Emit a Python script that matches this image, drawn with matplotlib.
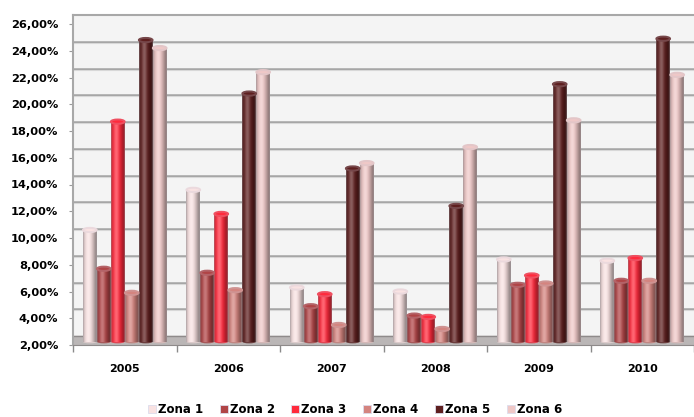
import numpy as np
import matplotlib.pyplot as plt
from matplotlib.patches import Ellipse
from matplotlib.lines import Line2D
from matplotlib.colors import to_rgb

years = ["2005", "2006", "2007", "2008", "2009", "2010"]
zones = ["Zona 1", "Zona 2", "Zona 3", "Zona 4", "Zona 5", "Zona 6"]
zona1 = [10.6, 13.6, 6.3, 6.0, 8.4, 8.3]
zona2 = [7.7, 7.4, 4.9, 4.2, 6.5, 6.8]
zona3 = [18.7, 11.8, 5.8, 4.1, 7.2, 8.5]
zona4 = [5.9, 6.1, 3.5, 3.2, 6.6, 6.8]
zona5 = [24.8, 20.8, 15.2, 12.4, 21.5, 24.9]
zona6 = [24.2, 22.4, 15.6, 16.8, 18.8, 22.2]
series = [zona1, zona2, zona3, zona4, zona5, zona6]
colors = ["#f9e2e2", "#b04446", "#ff2a3c", "#d4847f", "#5e1f1f", "#efc8c7"]
yticks = list(range(2, 27, 2))

depth = 0.67      # vertical shift of the back wall (perspective)
base = 2.25       # where the cylinders stand on the floor
bw = 0.135        # bar width in category units
cap_h = 0.32      # height of the top ellipse


def cylinder_row(color, n=40):
    c = np.array(to_rgb(color))
    t = np.linspace(0, 1, n)
    light = np.cos(np.pi * (t - 0.38) * 0.95)
    light = np.clip(light, 0, 1)
    rows = []
    for ti, l in zip(t, light):
        col = c * (0.62 + 0.38 * l)
        hl = 0.28 * l ** 6
        col = col * (1 - hl) + hl
        # grey rim on both sides
        if ti < 0.07 or ti > 0.93:
            col = col * 0.6 + np.array([0.62, 0.6, 0.62]) * 0.4
        rows.append(col)
    return np.clip(np.array(rows)[None, :, :], 0, 1)


fig = plt.figure(figsize=(6.94, 4.17), dpi=100)
ax = fig.add_axes([73 / 694, 72 / 417, 621 / 694, 330 / 417])
ax.set_facecolor("#f4f4f4")

# floor and back-wall grid
ax.axhspan(2, 2 + depth, color="#bab6b6", zorder=1)
ax.axhline(2 + depth, color="#8e8a8a", lw=1.0, zorder=1)
for v in yticks[1:-1]:
    ax.axhline(v + depth, color="#a4a4a4", lw=1.8, zorder=1)
    ax.axhline(v + depth - 0.09, color="#d8d8d8", lw=0.8, zorder=1)

x = np.arange(len(years))
for i, (vals, col) in enumerate(zip(series, colors)):
    img = cylinder_row(col)
    for xc, v in zip(x + (i - 2.5) * bw, vals):
        ax.imshow(img, extent=[xc - bw / 2, xc + bw / 2, base, v],
                  aspect="auto", zorder=3, interpolation="bilinear")
        ax.add_patch(Ellipse((xc, base), bw, cap_h * 0.8, facecolor=img[0, 20] * 0.9,
                             edgecolor="none", zorder=2.9))
        top = np.array(to_rgb(col)) * 0.75 + 0.25 * np.array([0.75, 0.75, 0.8])
        ax.add_patch(Ellipse((xc, v), bw * 0.98, cap_h, facecolor=to_rgb(col),
                             edgecolor=top, lw=1.4, zorder=4))

ax.set_xlim(-0.5, 5.5)
ax.set_ylim(2, 2 + 330 / 13.375)

ax.set_yticks(yticks)
ax.set_yticklabels([f"{v},00%" for v in yticks], fontsize=8.2, fontweight="bold")
ax.tick_params(axis="y", length=3, color="#9a9a9a", pad=7.5)

ax.set_xticks(x)
ax.set_xticklabels(years, fontsize=8, fontweight="bold")
ax.set_xticks(np.arange(-0.5, 6.0, 1), minor=True)
ax.tick_params(axis="x", which="major", length=0, pad=14)
ax.tick_params(axis="x", which="minor", length=5, color="#8a8a8a", width=1)

for s in ["left", "top"]:
    ax.spines[s].set_color("#a8a8a8")
    ax.spines[s].set_linewidth(1.5)
ax.spines["bottom"].set_color("#8e8a8a")
ax.spines["right"].set_visible(False)

handles = [Line2D([], [], marker="s", ls="none", markersize=6, markerfacecolor=c,
                  markeredgecolor="#dcdcec", markeredgewidth=0.6) for c in colors]
fig.legend(handles, zones, loc="center", bbox_to_anchor=(0.51, 0.017), ncol=6,
           frameon=False, prop={"weight": "bold", "size": 8.5}, handletextpad=0.0,
           columnspacing=1.25, handlelength=1.0)

fig.savefig("out.png", dpi=100)
